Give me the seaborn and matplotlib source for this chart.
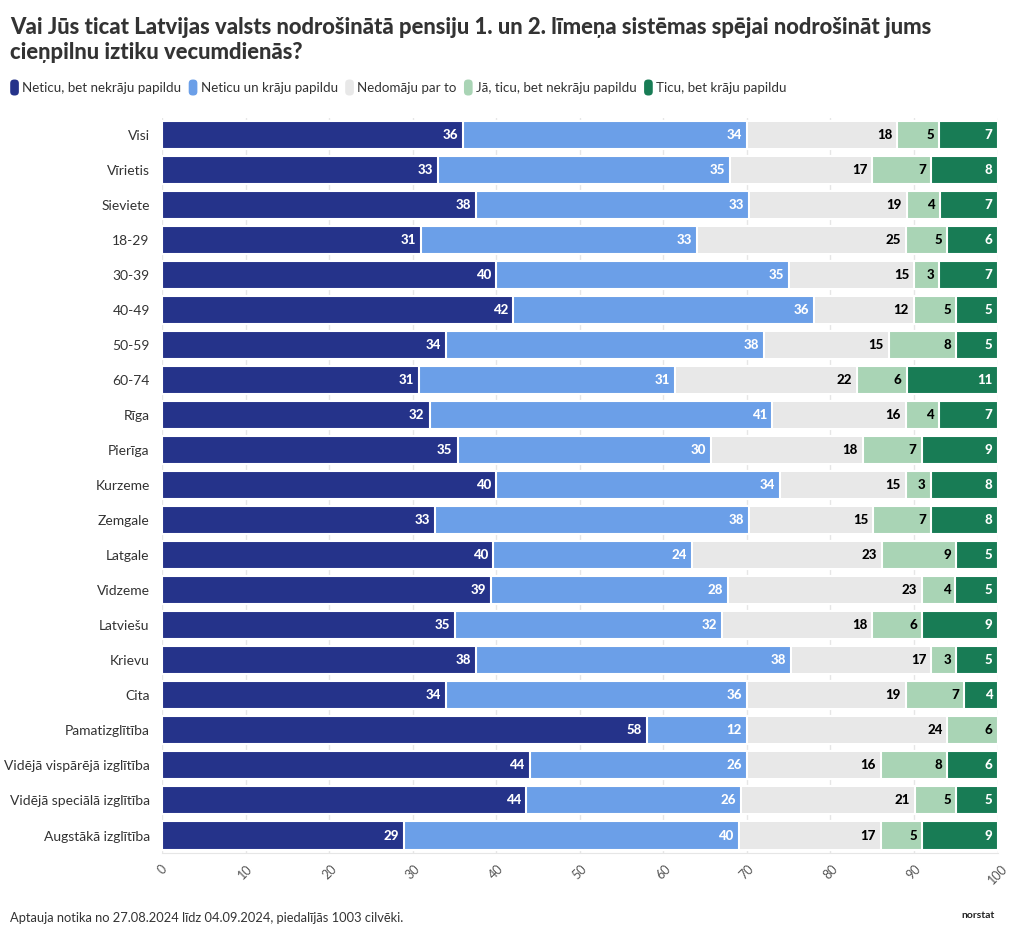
import matplotlib
matplotlib.use("Agg")
import matplotlib.pyplot as plt
import seaborn as sns
import numpy as np
import pandas as pd
from matplotlib.patches import FancyBboxPatch

# data (percent)
groups = ["Visi", "Vīrietis", "Sieviete", "18-29", "30-39", "40-49", "50-59", "60-74",
          "Rīga", "Pierīga", "Kurzeme", "Zemgale", "Latgale", "Vidzeme", "Latviešu",
          "Krievu", "Cita", "Pamatizglītība", "Vidējā vispārējā izglītība",
          "Vidējā speciālā izglītība", "Augstākā izglītība"]
series = ["Neticu, bet nekrāju papildu", "Neticu un krāju papildu", "Nedomāju par to",
          "Jā, ticu, bet nekrāju papildu", "Ticu, bet krāju papildu"]
neticu_nekraju = [36, 33, 38, 31, 40, 42, 34, 31, 32, 35, 40, 33, 40, 39, 35, 38, 34, 58, 44, 44, 29]
neticu_kraju = [34, 35, 33, 33, 35, 36, 38, 31, 41, 30, 34, 38, 24, 28, 32, 38, 36, 12, 26, 26, 40]
nedomaju = [18, 17, 19, 25, 15, 12, 15, 22, 16, 18, 15, 15, 23, 23, 18, 17, 19, 24, 16, 21, 17]
ticu_nekraju = [5, 7, 4, 5, 3, 5, 8, 6, 4, 7, 3, 7, 9, 4, 6, 3, 7, 6, 8, 5, 5]
ticu_kraju = [7, 8, 7, 6, 7, 5, 5, 11, 7, 9, 8, 8, 5, 5, 9, 5, 4, 0, 6, 5, 9]
colors = ["#25338a", "#6b9fe8", "#e8e8e8", "#a9d4b5", "#187c55"]
label_colors = ["white", "white", "black", "black", "white"]

sns.set_style("whitegrid")
plt.rcParams["font.family"] = ["Lato", "DejaVu Sans"]

df = pd.DataFrame({"group": groups})
vals = np.array([neticu_nekraju, neticu_kraju, nedomaju, ticu_nekraju, ticu_kraju], dtype=float)
# scale each row to 100 so all bars end at 100 like the reference
shares = vals / vals.sum(axis=0) * 100
cum = np.cumsum(shares, axis=0)
for k in range(5):
    df[f"cum{k}"] = cum[k]

fig = plt.figure(figsize=(10.2, 9.41), dpi=100)
ax = fig.add_axes([0.159, 0.0935, 0.819, 0.7815])

# draw cumulative bars from the back so they look stacked
for k in reversed(range(5)):
    sns.barplot(data=df, y="group", x=f"cum{k}", color=colors[k], orient="h",
                width=0.8, edgecolor="white", linewidth=1.5, saturation=1, ax=ax)

for i in range(len(groups)):
    for k in range(5):
        v = vals[k, i]
        if v <= 0:
            continue
        ax.text(cum[k, i] - 0.6, i, f"{int(v)}", ha="right", va="center",
                color=label_colors[k], fontsize=9.5, fontweight="black")

ax.set_xlim(0, 100)
ax.set_ylim(len(groups) - 0.5, -0.5)
ax.set_xticks(range(0, 101, 10))
ax.set_xlabel("")
ax.set_ylabel("")
ax.grid(axis="x", color="#e6e6e6", linewidth=1)
ax.grid(axis="y", visible=False)
ax.set_axisbelow(True)
for s in ["top", "right", "left"]:
    ax.spines[s].set_visible(False)
ax.spines["bottom"].set_color("#e6e6e6")
ax.tick_params(axis="x", labelrotation=45, labelsize=9, colors="#555555", length=0, pad=7)
ax.tick_params(axis="y", labelsize=10, colors="#333333", length=5, width=0.8, pad=4)
ax.tick_params(axis="y", color="#cccccc")
for lab in ax.get_xticklabels():
    lab.set_ha("center")
    lab.set_color("#555555")
for lab in ax.get_yticklabels():
    lab.set_color("#333333")

fig.text(0.010, 0.982, "Vai Jūs ticat Latvijas valsts nodrošinātā pensiju 1. un 2. līmeņa sistēmas spējai nodrošināt jums\ncieņpilnu iztiku vecumdienās?",
         ha="left", va="top", fontsize=15.8, fontweight="black", color="#333333", linespacing=1.25)

# legend row
x = 0.010
y = 0.907
for k in range(5):
    fig.patches.append(FancyBboxPatch((x, y - 0.0085), 0.0085, 0.017, boxstyle="round,pad=0,rounding_size=0.004",
                                      transform=fig.transFigure, facecolor=colors[k], edgecolor="none"))
    t = fig.text(x + 0.012, y, series[k], ha="left", va="center", fontsize=9.6, color="#333333")
    fig.canvas.draw()
    bb = t.get_window_extent().transformed(fig.transFigure.inverted())
    x = bb.x1 + 0.007

fig.text(0.010, 0.024, "Aptauja notika no 27.08.2024 līdz 04.09.2024, piedalījās 1003 cilvēki.",
         ha="left", va="center", fontsize=9.3, color="#333333")
fig.text(0.975, 0.027, "norstat", ha="right", va="center", fontsize=7.5, fontweight="bold", color="#222222")

fig.savefig("out.png", dpi=100)
